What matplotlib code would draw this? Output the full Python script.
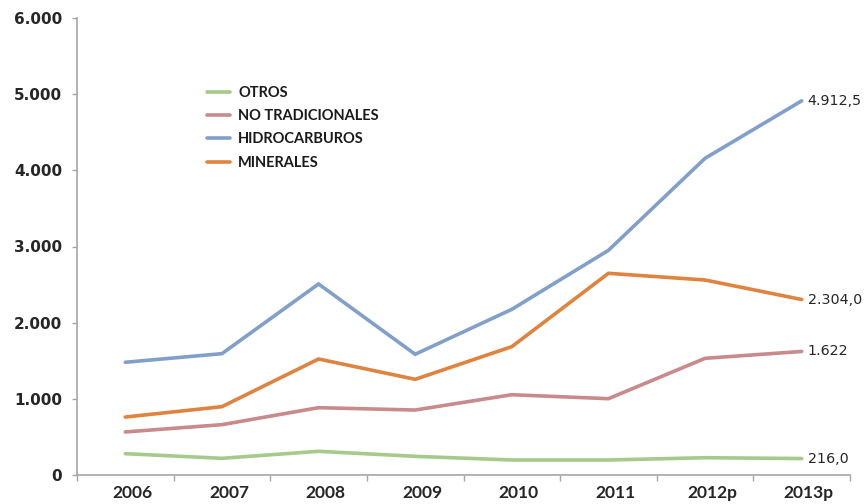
import matplotlib
matplotlib.use("Agg")
import matplotlib.pyplot as plt
from matplotlib.ticker import FixedLocator, FuncFormatter
from matplotlib.transforms import ScaledTranslation

years = ["2006", "2007", "2008", "2009", "2010", "2011", "2012p", "2013p"]
otros = [280, 219, 311, 245, 197, 197, 227, 216.0]
no_tradicionales = [565, 661, 884, 853, 1054, 1002, 1532, 1622]
hidrocarburos = [1480, 1593, 2508, 1585, 2175, 2950, 4158, 4912.5]
minerales = [761, 897, 1523, 1256, 1685, 2648, 2560, 2304.0]
end_labels = ["216,0", "1.622", "4.912,5", "2.304,0"]

series_names = ["OTROS", "NO TRADICIONALES", "HIDROCARBUROS", "MINERALES"]
colors = ["#A6C98C", "#C88A8A", "#819FCB", "#E0833E"]

fig = plt.figure(figsize=(8.64, 5.04), dpi=100)
ax = fig.add_axes([77/864, 29/504, 773/864, 457/504])

x = list(range(len(years)))
all_series = [otros, no_tradicionales, hidrocarburos, minerales]
for vals, name, c, lab in zip(all_series, series_names, colors, end_labels):
    ax.plot(x, vals, color=c, lw=2.6, label=name, solid_capstyle="round", solid_joinstyle="miter")
    ax.annotate(lab, xy=(x[-1], vals[-1]), xytext=(4.3, 0), textcoords="offset points",
                va="center", ha="left", fontsize=10.3, color="#262626",
                family="DejaVu Sans", annotation_clip=False)

ax.set_xlim(-0.5, len(years) - 0.5)
ax.set_ylim(0, 6000)
ax.set_yticks(range(0, 6001, 1000))
ax.yaxis.set_major_formatter(FuncFormatter(lambda v, p: f"{int(v):,}".replace(",", ".")))

ax.set_xticks(x)
ax.set_xticklabels(years)
ax.xaxis.set_minor_locator(FixedLocator([i - 0.5 for i in range(len(years) + 1)]))
ax.tick_params(axis="x", which="major", length=0, pad=7.5)
ax.tick_params(axis="x", which="minor", length=4, color="#A6A6A6", width=1)
ax.tick_params(axis="y", which="major", length=3.6, color="#A6A6A6", width=1, pad=7)

shift = ScaledTranslation(0.07, 0, fig.dpi_scale_trans)
for lbl in ax.get_xticklabels():
    lbl.set_family(["Lato", "DejaVu Sans"])
    lbl.set_fontweight("bold")
    lbl.set_fontsize(12.5)
    lbl.set_color("#262626")
    lbl.set_transform(lbl.get_transform() + shift)
for lbl in ax.get_yticklabels():
    lbl.set_family("DejaVu Sans")
    lbl.set_fontweight("bold")
    lbl.set_fontsize(11)
    lbl.set_color("#262626")

for s in ["top", "right"]:
    ax.spines[s].set_visible(False)
for s in ["left", "bottom"]:
    ax.spines[s].set_color("#A6A6A6")
    ax.spines[s].set_linewidth(1.2)

leg = ax.legend(loc="upper left", bbox_to_anchor=(0.168, 0.852), frameon=False,
                borderpad=0, borderaxespad=0, handlelength=1.6, handletextpad=0.55,
                labelspacing=0.64, prop={"family": ["Lato", "DejaVu Sans"], "weight": "bold", "size": 10.5})
for t in leg.get_texts():
    t.set_color("#1a1a1a")

fig.savefig("out.png", dpi=100)
